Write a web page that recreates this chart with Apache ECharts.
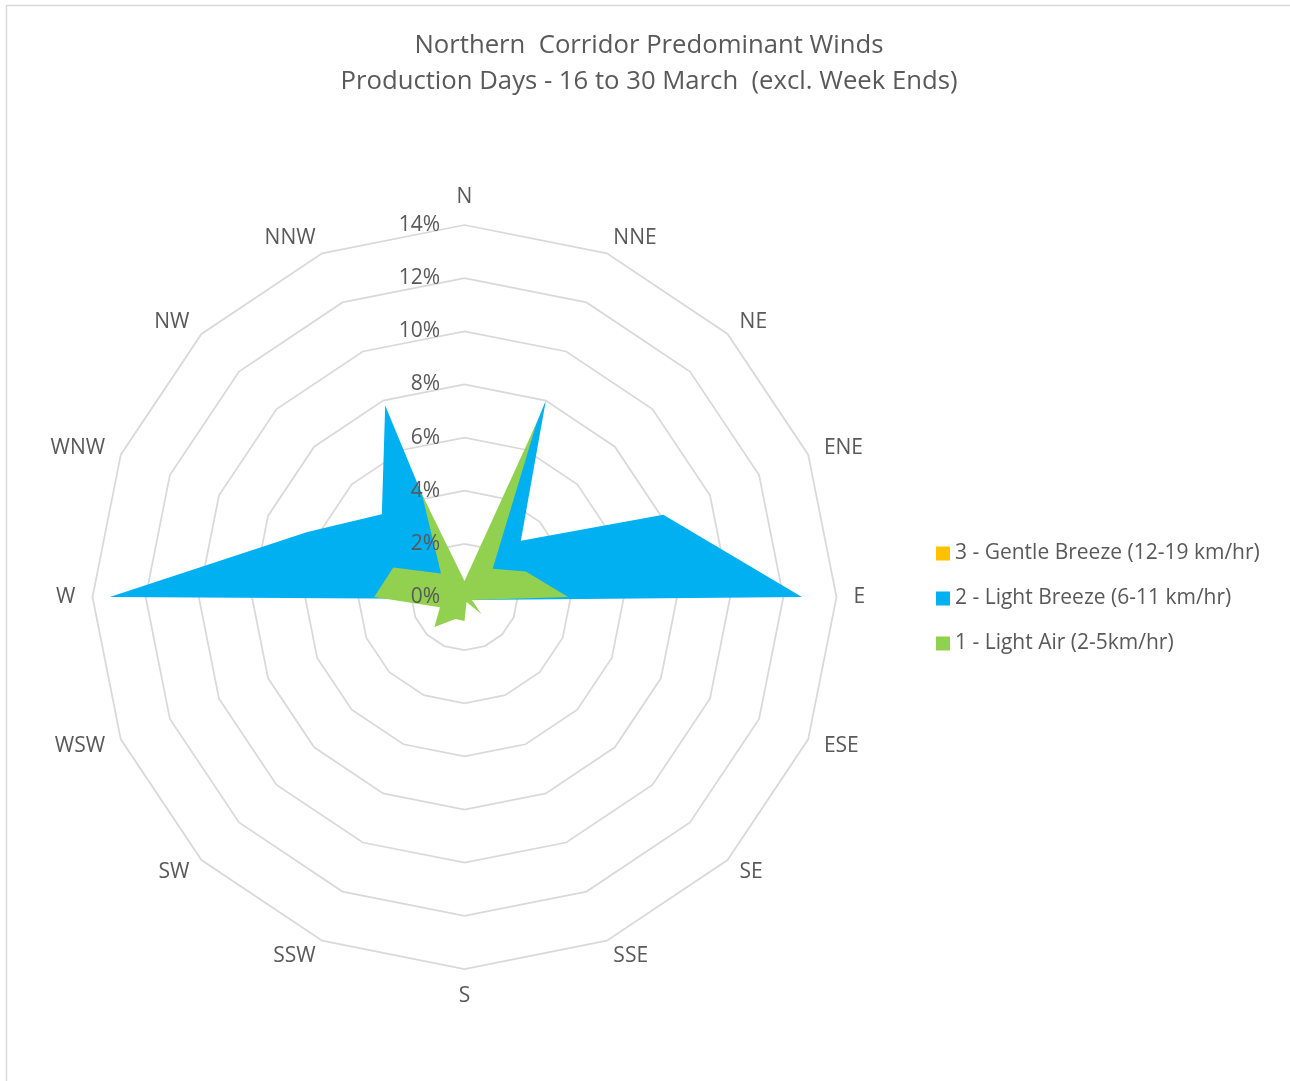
<!DOCTYPE html>
<html>
<head>
<meta charset="utf-8">
<script src="https://cdn.jsdelivr.net/npm/echarts@6/dist/echarts.min.js"></script>
<style>
  html, body { margin: 0; padding: 0; background: #ffffff; }
  #chart { width: 1290px; height: 1081px; }
</style>
</head>
<body>
<div id="chart"></div>
<script>
// Compass directions, clockwise from North
const directions = ['N','NNE','NE','ENE','E','ESE','SE','SSE','S','SSW','SW','WSW','W','WNW','NW','NNW'];
// Percent of observations per direction
const gentleBreeze = [0,0,0,0,0,0,0,0,0,0,0,0,0,0,0,0];
const lightBreeze  = [0, 8.0, 3.0, 8.1, 12.7, 0.3, 0.2, 0.1, 0.2, 0.2, 0.2, 0.2, 13.35, 6.4, 4.4, 7.8];
const lightAir     = [0.6, 7.1, 1.5, 2.5, 3.9, 0.3, 0.9, 0.2, 0.9, 0.9, 1.6, 1.0, 3.4, 2.9, 1.25, 4.2];
const seriesNames = ['3 - Gentle Breeze (12-19 km/hr)', '2 - Light Breeze (6-11 km/hr)', '1 - Light Air (2-5km/hr)'];
const seriesColors = ['#FFC000', '#00B0F0', '#92D050'];
const tickMax = 14;
const tickStep = 2;

const FONT = 'Open Sans';
const TEXT = '#595959';

// ECharts radar runs counter-clockwise; reorder so the compass reads clockwise
const order = [0].concat(directions.map((d, i) => i).slice(1).reverse());
const reorder = arr => order.map(i => arr[i]);

const chart = echarts.init(document.getElementById('chart'));
const values = [gentleBreeze, lightBreeze, lightAir];

chart.setOption({
  backgroundColor: '#ffffff',
  title: {
    text: 'Northern  Corridor Predominant Winds\nProduction Days - 16 to 30 March  (excl. Week Ends)',
    left: 644,
    textAlign: 'center',
    top: 23,
    textStyle: { fontFamily: FONT, fontSize: 25.7, fontWeight: 'normal', color: TEXT, lineHeight: 36 }
  },
  legend: {
    orient: 'vertical',
    left: 931,
    top: 535,
    itemWidth: 14,
    itemHeight: 14,
    itemGap: 18,
    icon: 'rect',
    data: seriesNames,
    textStyle: { fontFamily: FONT, fontSize: 21, color: TEXT, lineHeight: 27, padding: [0, 0, 0, 0] }
  },
  radar: {
    center: [464.5, 597],
    radius: 372,
    startAngle: 90,
    shape: 'polygon',
    splitNumber: tickMax / tickStep,
    indicator: reorder(directions).map(n => ({ name: n, min: 0, max: tickMax })),
    axisName: { color: TEXT, fontFamily: FONT, fontSize: 21 },
    nameGap: 17,
    axisLine: { show: false },
    axisTick: { show: false },
    axisLabel: { show: false },
    splitArea: { show: false },
    splitLine: { lineStyle: { color: '#d9d9d9', width: 1.75 } }
  },
  grid: { left: 448, top: 225, width: 1, height: 372, z: 10 },
  xAxis: { type: 'value', show: false },
  yAxis: {
    type: 'value',
    min: 0, max: tickMax, interval: tickStep,
    z: 10,
    axisLine: { show: false },
    axisTick: { show: false },
    splitLine: { show: false },
    axisLabel: { formatter: '{value}%', color: TEXT, fontFamily: FONT, fontSize: 21, margin: 8 }
  },
  graphic: [{
    type: 'rect',
    shape: { x: 6.5, y: 5.5, width: 1300, height: 1100 },
    style: { fill: 'none', stroke: '#d9d9d9', lineWidth: 1.5 },
    silent: true
  }],
  series: values.map((v, i) => ({
    type: 'radar',
    name: seriesNames[i],
    symbol: 'none',
    z: 2 + i,
    itemStyle: { color: seriesColors[i] },
    lineStyle: { width: 0, opacity: 0 },
    areaStyle: { color: seriesColors[i], opacity: 1 },
    data: [{ name: seriesNames[i], value: reorder(v) }]
  }))
});
</script>
</body>
</html>
